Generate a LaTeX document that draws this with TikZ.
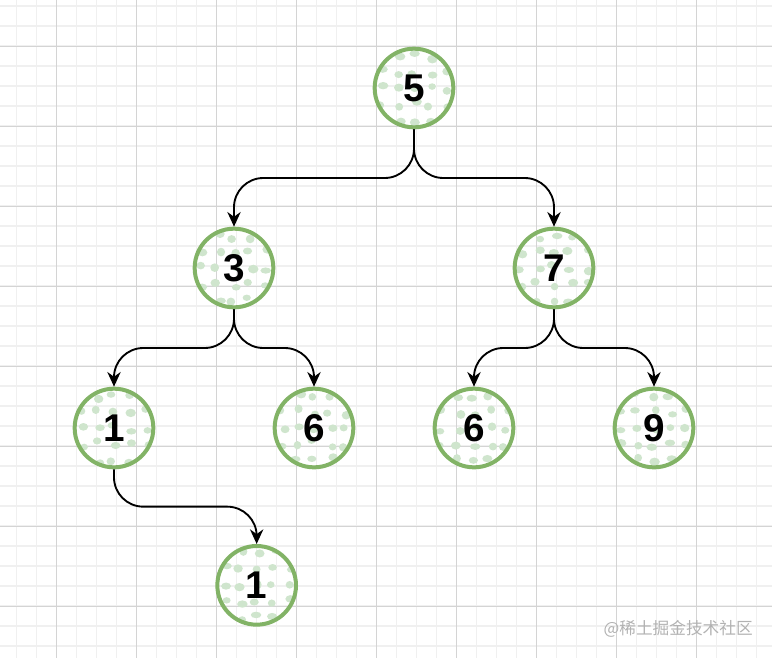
\documentclass[tikz,border=0pt]{standalone}
\usepackage{fontspec}
\newfontfamily\numfont{Liberation Sans}
\newfontfamily\cjkfont{Noto Sans CJK SC}
\definecolor{NodeGreen}{RGB}{130,179,102}
\definecolor{DotGreen}{RGB}{207,229,205}
\definecolor{MinorGrid}{RGB}{240,240,240}
\definecolor{MajorGrid}{RGB}{212,212,212}
\definecolor{MarkGray}{RGB}{178,178,178}
\usetikzlibrary{positioning,calc,arrows.meta}

\begin{document}
\begin{tikzpicture}[x=0.75pt,y=-0.75pt,on grid,
      vertex/.style={circle,draw=NodeGreen,line width=3pt,minimum size=59pt,
                  inner sep=0pt,font=\numfont\bfseries\fontsize{29}{30}\selectfont,
                  path picture={
                    \foreach \i in {-2,...,2}{\foreach \j in {-2,...,2}{
                      \fill[DotGreen] ($(path picture bounding box.center)+(\i*12pt+rand*2.5pt,\j*12pt+rand*2.5pt)$)
                        ellipse ({3.4pt+rand*0.6pt} and {2.8pt+rand*0.5pt});}}}},
      arrow/.style={-{Stealth[length=11pt,width=10pt]},line width=1.4pt,rounded corners=22pt,
                  to path={let \p1=(\tikztostart),\p2=(\tikztotarget) in
                    -- (\x1,{0.5*\y1+0.5*\y2}) -- (\x2,{0.5*\y1+0.5*\y2}) -- (\tikztotarget)}}]
    \pgfmathsetseed{11}
    \useasboundingbox (0,0) rectangle (772,658);
    % grid
    \foreach \gx in {16.7,36.7,...,772} \draw[MinorGrid,line width=0.9pt] (\gx,0) -- (\gx,658);
    \foreach \gy in {6,26,...,658} \draw[MinorGrid,line width=0.9pt] (0,\gy) -- (772,\gy);
    \foreach \gx in {56.7,136.7,...,772} \draw[MajorGrid,line width=0.6pt] (\gx,0) -- (\gx,658);
    \foreach \gy in {46,126,...,658} \draw[MajorGrid,line width=0.6pt] (0,\gy) -- (772,\gy);

    \node[vertex] (n5) at (414,88) {5};
    \node[vertex,below left=135pt and 135pt of n5] (n3) {3};
    \node[vertex,below right=135pt and 105pt of n5] (n7) {7};
    \node[vertex,below left=120pt and 90pt of n3] (n1) {1};
    \node[vertex,below right=120pt and 60pt of n3] (n6a) {6};
    \node[vertex,below left=120pt and 60pt of n7] (n6b) {6};
    \node[vertex,below right=120pt and 75pt of n7] (n9) {9};
    \node[vertex,below right=118pt and 107pt of n1] (n1b) {1};

    \draw[arrow] (n5.south) to (n3.north);
    \draw[arrow] (n5.south) to (n7.north);
    \draw[arrow] (n3.south) to (n1.north);
    \draw[arrow] (n3.south) to (n6a.north);
    \draw[arrow] (n7.south) to (n6b.north);
    \draw[arrow] (n7.south) to (n9.north);
    \draw[arrow] (n1.south) to (n1b.north);

    \node[anchor=east,text=MarkGray,font=\cjkfont\fontsize{12.5}{14}\selectfont,inner sep=0pt] (mark) at (753,629) {@稀土掘金技术社区};
  \end{tikzpicture}
\end{document}
